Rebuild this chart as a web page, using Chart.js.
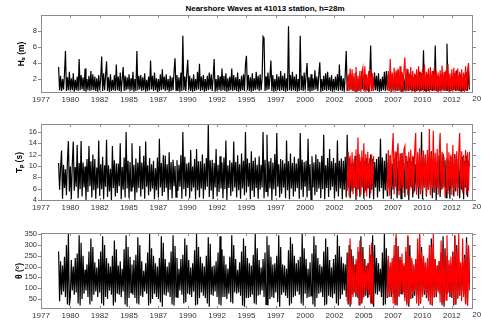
<!DOCTYPE html>
<html>
<head>
<meta charset="utf-8">
<script src="https://cdn.jsdelivr.net/npm/chart.js@4"></script>
<style>
  body { margin: 0; background: #fff; width: 481px; height: 321px; overflow: hidden; position: relative; }
  canvas { position: absolute; left: 0; }
  #title { position: absolute; top: 4px; left: 0; width: 530px; text-align: center;
           font: bold 8px "Liberation Sans", Arial, sans-serif; line-height: 10px; color: #000; }
</style>
</head>
<body>
<div id="title">Nearshore Waves at 41013 station, h=28m</div>
<canvas id="hsChart" width="481" height="105" style="top:0px"></canvas>
<canvas id="tpChart" width="481" height="103" style="top:110px"></canvas>
<canvas id="dirChart" width="481" height="106" style="top:215px"></canvas>
<script>
// monthly sampling (years); hindcast from Jan 1979, buoy from Aug 2003
const blackStart = 1979.0;
const redStart = 2003 + 7 / 12;
const perYear = 12;

const xTickPos = [1977.5, 1980, 1982.5, 1985, 1987.5, 1990, 1992.5, 1995, 1997.5, 2000, 2002.5, 2005, 2007.5, 2010, 2012.5, 2015];
const xTickLabels = ['1977', '1980', '1982', '1985', '1987', '1990', '1992', '1995', '1997', '2000', '2002', '2005', '2007', '2010', '2012', '2015'];

// Hs (m), hindcast (black), one row per year
const hsBlack = [
  3.5, 0.6, 2.4, 0.5, 2.0, 0.7, 2.6, 5.5, 0.5, 2.2, 0.6, 2.9,
  0.5, 2.1, 0.6, 2.7, 0.4, 1.9, 0.6, 2.3, 0.5, 4.5, 0.6, 2.5,
  0.7, 2.2, 0.5, 3.3, 0.4, 2.0, 0.6, 2.4, 0.5, 3.0, 0.6, 2.6,
  0.6, 2.3, 0.5, 2.1, 0.4, 2.5, 0.6, 2.0, 4.8, 0.5, 2.7, 0.6,
  2.4, 4.2, 0.5, 2.2, 0.4, 2.6, 0.5, 1.9, 0.6, 2.5, 0.5, 3.8,
  0.6, 2.3, 0.5, 2.8, 0.4, 2.0, 3.5, 0.5, 2.4, 0.6, 2.2, 0.7,
  2.6, 0.5, 2.1, 0.6, 2.9, 0.4, 2.0, 0.5, 5.5, 0.6, 2.4, 0.7,
  2.5, 0.5, 2.2, 0.6, 2.7, 0.4, 1.9, 0.5, 2.3, 0.6, 4.3, 0.7,
  2.4, 0.5, 2.8, 0.6, 2.1, 0.4, 2.0, 0.5, 2.6, 0.6, 3.2, 0.7,
  2.3, 0.5, 2.6, 0.6, 2.0, 0.4, 2.4, 0.5, 2.2, 0.6, 2.9, 4.6,
  0.6, 2.5, 0.5, 2.2, 0.4, 2.8, 0.5, 7.4, 0.6, 2.3, 0.5, 2.7,
  4.4, 0.6, 2.4, 0.5, 2.1, 0.4, 2.6, 0.5, 2.0, 0.6, 2.9, 0.7,
  3.9, 0.5, 2.3, 0.6, 2.5, 0.4, 2.0, 0.5, 2.4, 0.6, 2.8, 0.7,
  2.6, 0.5, 2.2, 4.5, 0.4, 2.0, 0.5, 2.5, 0.6, 2.3, 0.5, 3.3,
  0.6, 2.4, 0.5, 2.7, 0.4, 2.1, 0.5, 2.3, 0.6, 3.3, 0.5, 2.5,
  0.6, 2.2, 0.5, 2.8, 0.4, 2.0, 0.5, 2.4, 0.6, 2.6, 0.5, 3.8,
  4.9, 0.6, 2.5, 0.5, 2.2, 0.4, 2.7, 0.5, 2.1, 0.6, 2.9, 0.7,
  2.4, 0.5, 2.6, 0.6, 2.1, 7.3, 7.1, 0.5, 2.3, 0.6, 2.8, 0.7,
  2.2, 4.3, 0.5, 2.5, 0.4, 2.0, 0.5, 2.6, 0.6, 2.3, 0.5, 3.0,
  0.6, 2.4, 0.5, 2.7, 0.4, 2.1, 0.5, 8.6, 0.6, 2.5, 0.5, 2.9,
  0.6, 2.3, 0.5, 2.6, 0.4, 2.0, 0.5, 7.4, 0.6, 2.4, 0.5, 2.8,
  0.6, 2.5, 4.0, 0.5, 2.2, 0.4, 2.6, 0.5, 2.1, 0.6, 3.1, 0.7,
  2.3, 0.5, 2.6, 4.1, 0.4, 2.0, 0.5, 2.4, 0.6, 2.7, 0.5, 2.9,
  0.6, 2.2, 0.5, 2.5, 0.4, 2.0, 0.5, 2.3, 0.6, 2.6, 0.5, 3.8,
  0.6, 2.4, 0.5, 2.1, 0.4, 2.6, 5.5, 0.5, 2.3, 0.6, 2.7, 0.7,
  2.5, 0.5, 2.2, 0.6, 2.8, 0.4, 2.0, 0.5, 2.4, 0.6, 3.0, 0.7,
  2.3, 0.5, 2.6, 0.6, 2.1, 0.4, 2.5, 6.2, 0.5, 2.2, 0.6, 2.8,
  0.6, 2.4, 0.5, 2.7, 0.4, 2.0, 0.5, 2.3, 0.6, 2.9, 0.5, 3.0,
  0.6, 2.5, 0.5, 2.2, 0.4, 2.6, 0.5, 2.1, 0.6, 2.8, 0.5, 3.1,
  0.6, 2.3, 0.5, 2.7, 0.4, 2.1, 0.5, 2.4, 0.6, 3.2, 0.5, 2.6,
  0.6, 2.4, 0.5, 2.2, 0.4, 2.5, 0.5, 2.0, 0.6, 2.9, 0.5, 2.7,
  0.6, 5.6, 0.5, 2.3, 0.4, 2.6, 0.5, 2.1, 0.6, 2.5, 0.5, 3.0,
  0.6, 6.2, 0.5, 2.4, 0.4, 2.2, 0.5, 2.6, 0.6, 2.3, 0.5, 2.9,
  0.6, 6.4, 0.5, 2.5, 0.4, 2.1, 0.5, 2.4, 0.6, 2.7, 0.5, 3.1,
  0.6, 2.3, 0.5, 2.6, 0.4, 2.0, 0.5, 2.5, 0.6, 2.8, 0.5, 3.0,
  0.7
];
// Hs (m), buoy (red)
const hsRed = [
  0.6, 2.6, 0.5, 3.3, 0.6,
  3.2, 0.5, 2.7, 0.4, 3.5, 0.5, 2.4, 0.6, 3.0, 0.4, 2.8, 3.4,
  0.5, 3.6, 0.4, 2.6, 0.5, 3.0, 0.4, 3.2, 0.6, 2.7, 0.5, null,
  null, null, null, null, null, null, null, null, null, null, null, null,
  0.6, 3.0, 0.5, 4.5, 0.4, 2.8, 0.5, 3.4, 0.4, 3.1, 0.6, 3.3,
  0.5, 3.6, 0.4, 2.9, 0.5, 3.1, 4.7, 0.4, 3.3, 0.5, 2.8, 0.6,
  3.5, 0.4, 3.0, 0.5, 2.7, 0.4, 3.2, 0.5, 3.6, 0.4, 2.9, 0.5,
  3.2, 0.6, 3.8, 0.4, 2.9, 0.5, 3.3, 0.4, 3.5, 0.6, 3.0, 0.5,
  3.4, 0.5, 3.0, 0.4, 2.8, 0.5, 3.1, 0.4, 3.7, 0.6, 2.9, 0.5,
  3.1, 0.5, 3.9, 0.4, 2.7, 0.5, 3.2, 0.4, 3.4, 0.6, 3.0, 0.5,
  3.3, 0.5, 2.9, 0.4, 3.2, 0.5, 2.8, 0.4, 3.6, 0.5, 3.1, 4.0,
  0.9
];

// Tp (s)
const tpBlack = [
  10.5, 5.8, 9.6, 12.7, 4.2, 10.2, 6.1, 9.4, 4.8, 10.8, 14.4, 5.5,
  9.9, 4.1, 10.4, 14.3, 5.6, 9.8, 6.3, 13.7, 4.3, 10.5, 5.9, 14.4,
  4.6, 10.6, 6.2, 9.9, 4.0, 11.2, 5.4, 13.5, 6.4, 10.8, 4.4, 12.0,
  5.7, 11.2, 4.2, 9.7, 6.0, 14.5, 4.7, 10.3, 5.9, 11.6, 4.1, 10.1,
  6.3, 14.6, 4.5, 10.1, 5.5, 9.5, 4.0, 13.5, 6.1, 11.0, 4.6, 10.4,
  5.2, 10.4, 6.4, 14.0, 4.1, 9.8, 5.8, 11.5, 4.4, 16.0, 6.0, 10.9,
  4.3, 10.7, 5.6, 14.0, 6.2, 10.2, 4.0, 11.3, 5.3, 10.6, 6.1, 13.5,
  4.6, 10.6, 5.9, 11.8, 4.2, 14.3, 6.3, 10.1, 4.8, 11.4, 5.5, 10.3,
  6.0, 10.9, 4.1, 9.6, 5.7, 11.5, 4.4, 14.8, 6.2, 10.5, 4.7, 11.9,
  5.4, 11.8, 6.1, 10.3, 4.0, 12.4, 5.8, 10.7, 4.3, 11.1, 6.4, 10.0,
  4.5, 11.0, 5.6, 10.2, 6.3, 11.9, 4.2, 16.0, 5.9, 11.6, 4.6, 10.4,
  6.1, 10.6, 4.3, 12.8, 5.5, 9.9, 6.2, 11.2, 4.1, 13.0, 5.7, 10.8,
  4.4, 10.8, 6.0, 12.0, 4.2, 10.4, 5.8, 11.4, 6.3, 17.3, 4.5, 11.0,
  5.6, 11.1, 4.1, 10.5, 6.2, 13.0, 4.6, 10.2, 5.4, 11.7, 6.0, 10.6,
  4.3, 11.5, 5.9, 14.5, 4.0, 10.1, 6.1, 11.0, 4.7, 10.6, 5.5, 14.3,
  6.2, 10.7, 4.4, 11.9, 5.7, 10.3, 4.2, 12.2, 6.0, 10.9, 4.8, 16.0,
  5.3, 11.3, 6.3, 10.5, 4.1, 12.6, 5.6, 10.9, 4.5, 11.5, 6.1, 10.2,
  4.2, 11.7, 5.8, 10.2, 6.2, 16.0, 4.3, 11.1, 5.5, 15.5, 4.6, 10.8,
  6.0, 11.4, 4.0, 10.6, 5.9, 12.1, 4.7, 15.8, 6.3, 10.3, 4.4, 11.2,
  5.1, 11.0, 6.2, 10.4, 4.3, 14.5, 5.7, 10.8, 4.1, 12.2, 6.0, 10.5,
  4.6, 11.6, 5.5, 10.4, 6.1, 11.3, 4.2, 15.8, 5.8, 11.1, 4.5, 10.7,
  6.3, 10.9, 4.4, 14.8, 5.6, 10.3, 4.0, 11.7, 6.2, 10.6, 4.8, 12.0,
  5.4, 11.2, 6.0, 10.7, 4.3, 11.8, 5.9, 15.5, 4.1, 10.1, 6.1, 11.4,
  4.5, 13.0, 5.7, 10.8, 6.3, 11.4, 4.2, 10.5, 5.5, 14.5, 4.6, 10.9,
  6.0, 11.3, 4.1, 10.9, 5.8, 11.6, 4.4, 15.5, 6.2, 11.5, 4.3, 10.4,
  5.5, 10.6, 6.1, 11.8, 4.0, 10.2, 5.9, 12.1, 4.5, 10.8, 6.3, 11.3,
  4.2, 10.9, 5.6, 11.4, 6.0, 10.5, 4.3, 12.0, 5.8, 11.2, 4.1, 10.7,
  6.2, 11.2, 4.4, 11.6, 5.5, 14.8, 6.1, 11.5, 4.2, 10.9, 5.7, 12.2,
  4.6, 10.7, 6.0, 11.9, 4.1, 10.4, 5.8, 11.3, 6.3, 12.4, 4.3, 10.8,
  5.6, 11.0, 4.2, 12.3, 6.1, 10.6, 4.5, 11.8, 5.9, 10.9, 4.0, 11.5,
  6.3, 10.8, 4.4, 11.6, 5.5, 10.3, 6.0, 11.9, 4.2, 10.7, 5.7, 16.0,
  4.1, 11.4, 6.2, 12.0, 4.6, 10.7, 5.8, 11.5, 6.0, 12.6, 4.3, 10.9,
  5.4, 11.1, 4.0, 10.8, 6.1, 11.9, 4.5, 10.6, 5.9, 12.2, 6.3, 11.0,
  4.4, 11.3, 5.7, 10.9, 4.2, 11.7, 6.2, 10.5, 4.6, 12.1, 5.5, 11.2,
  6.0, 11.0, 4.3, 10.7, 5.8, 11.6, 4.1, 10.9, 6.2, 11.8, 4.5, 10.6,
  10.0
];
const tpRed = [
  5.6, 12.5, 4.6, 11.8, 6.2,
  12.4, 5.0, 11.2, 6.3, 12.9, 4.7, 15.0, 5.8, 11.6, 4.9, 12.7, 6.1,
  14.0, 5.3, 12.1, 4.6, 12.5, 6.0, 11.4, 5.1, 12.0, 6.4, 11.7, null,
  null, null, null, null, null, null, null, null, null, null, null, null,
  5.5, 12.8, 4.7, 11.9, 6.2, 12.4, 15.8, 5.0, 12.6, 6.1, 12.2, 14.0,
  4.8, 12.2, 6.0, 11.8, 5.2, 12.9, 13.5, 6.3, 11.7, 4.8, 12.5, 5.7,
  12.9, 6.1, 11.8, 5.1, 12.6, 15.8, 4.9, 12.4, 6.2, 13.1, 5.0, 12.0,
  5.6, 12.7, 6.3, 11.9, 4.8, 12.8, 5.9, 16.5, 4.8, 12.3, 6.0, 16.2,
  5.2, 12.3, 6.2, 13.0, 4.9, 12.1, 15.8, 5.7, 12.5, 6.1, 11.6, 5.1,
  6.0, 14.0, 5.0, 12.4, 6.3, 12.0, 4.8, 13.7, 5.6, 11.8, 6.1, 12.6,
  4.7, 12.2, 15.8, 6.0, 12.6, 5.3, 11.9, 6.2, 12.8, 4.8, 12.4, 5.6,
  12.5
];

// mean direction (deg)
const dirBlack = [
  270, 40, 225, 70, 205, 85, 245, 60, 300, 25, 350, 20,
  60, 230, 90, 200, 70, 240, 80, 260, 30, 345, 20, 310,
  50, 250, 75, 185, 90, 210, 60, 270, 25, 330, 40, 290,
  70, 220, 85, 195, 60, 235, 80, 270, 30, 340, 20, 300,
  60, 240, 50, 215, 90, 200, 70, 250, 20, 320, 35, 280,
  75, 205, 70, 225, 60, 190, 85, 280, 25, 345, 15, 290,
  55, 245, 80, 210, 70, 230, 55, 255, 30, 335, 25, 300,
  65, 225, 60, 180, 85, 215, 75, 265, 20, 350, 30, 285,
  50, 250, 75, 215, 60, 200, 50, 240, 35, 340, 15, 310,
  70, 235, 65, 200, 80, 220, 60, 270, 25, 345, 20, 295,
  60, 240, 55, 190, 90, 235, 70, 255, 30, 330, 35, 300,
  75, 230, 70, 195, 60, 215, 85, 275, 20, 350, 25, 290,
  55, 245, 80, 215, 65, 200, 55, 250, 30, 335, 15, 305,
  70, 200, 65, 205, 85, 225, 60, 265, 25, 340, 20, 280,
  60, 250, 60, 210, 50, 190, 75, 245, 35, 345, 30, 300,
  80, 235, 75, 185, 80, 220, 65, 270, 20, 330, 15, 295,
  55, 240, 55, 215, 60, 205, 70, 255, 30, 350, 25, 285,
  65, 230, 70, 195, 90, 235, 60, 265, 25, 340, 20, 300,
  50, 245, 60, 210, 55, 215, 80, 250, 35, 345, 15, 290,
  70, 210, 80, 205, 65, 190, 55, 275, 20, 335, 30, 305,
  60, 250, 65, 215, 85, 230, 70, 245, 30, 350, 20, 285,
  75, 235, 55, 190, 60, 220, 65, 260, 25, 340, 15, 300,
  55, 240, 75, 210, 80, 200, 60, 270, 20, 330, 25, 290,
  65, 230, 60, 195, 55, 235, 75, 255, 30, 345, 20, 295,
  50, 245, 70, 215, 90, 210, 60, 265, 25, 300, 15, 280,
  70, 250, 80, 210, 60, 225, 55, 270, 20, 340, 30, 290,
  60, 235, 65, 205, 55, 215, 70, 255, 30, 345, 15, 300,
  75, 240, 70, 215, 85, 190, 60, 265, 20, 350, 25, 285,
  55, 230, 60, 200, 60, 220, 75, 250, 25, 335, 20, 295,
  65, 245, 75, 210, 80, 205, 55, 270, 30, 340, 15, 300,
  50, 225, 55, 195, 65, 235, 70, 260, 20, 345, 30, 290,
  70, 240, 70, 215, 55, 200, 60, 255, 25, 330, 20, 305,
  60, 235, 60, 205, 90, 225, 75, 265, 30, 340, 15, 285,
  75, 250, 80, 210, 60, 215, 55, 270, 20, 345, 25, 300,
  55, 230, 65, 200, 85, 220, 70, 255, 30, 335, 20, 290,
  120
];
const dirRed = [
  40, 260, 30, 330, 25,
  240, 60, 210, 80, 235, 70, 290, 20, 320, 30, 270, 50,
  230, 70, 200, 90, 215, 60, 300, 30, 310, 25, 250, null,
  null, null, null, null, null, null, null, null, null, null, null, null,
  60, 250, 60, 220, 80, 240, 30, 300, 20, 350, 25, 280,
  60, 230, 80, 260, 70, 215, 40, 290, 20, 345, 30, 250,
  50, 240, 70, 210, 85, 235, 30, 330, 20, 350, 35, 270,
  60, 250, 85, 220, 65, 240, 40, 300, 25, 290, 20, 350,
  55, 235, 75, 205, 80, 225, 35, 320, 20, 290, 30, 260,
  45, 345, 80, 230, 60, 245, 70, 260, 30, 340, 25, 280,
  50, 350, 70, 220, 40, 330, 60, 240, 25, 310, 20, 300,
  90
];

Chart.defaults.font.family = '"Liberation Sans", Arial, sans-serif';
Chart.defaults.color = '#333';

function toPoints(start, vals) {
    return vals.map((v, i) => ({ x: start + i / perYear, y: v }));
}

// box round the plot, short ticks, and the cut-off last year label
const framePlugin = {
    id: 'frame',
    afterDraw(chart) {
        const { ctx, chartArea: a, scales: { x, y } } = chart;
        ctx.save();
        ctx.strokeStyle = '#8c8c8c';
        ctx.lineWidth = 1;
        ctx.strokeRect(a.left + 0.5, a.top + 0.5, a.right - a.left - 1, a.bottom - a.top - 1);
        ctx.beginPath();
        x.ticks.forEach(t => {
            const px = Math.round(x.getPixelForValue(t.value)) + 0.5;
            ctx.moveTo(px, a.top); ctx.lineTo(px, a.top + 3);
            ctx.moveTo(px, a.bottom); ctx.lineTo(px, a.bottom - 3);
        });
        y.ticks.forEach(t => {
            const py = Math.round(y.getPixelForValue(t.value)) + 0.5;
            ctx.moveTo(a.left - 3, py); ctx.lineTo(a.left, py);
            ctx.moveTo(a.right, py); ctx.lineTo(a.right + 3, py);
        });
        ctx.stroke();
        ctx.fillStyle = '#333';
        ctx.font = '8px "Liberation Sans", Arial, sans-serif';
        ctx.textAlign = 'center';
        ctx.textBaseline = 'top';
        const last = xTickPos.length - 1;
        ctx.fillText(xTickLabels[last], x.getPixelForValue(xTickPos[last]), x.top + 2);
        ctx.restore();
    }
};

function createPanel(canvasId, black, red, yLabel, yMin, yMax, yTicks, padTop, titlePad) {
    const ctx = document.getElementById(canvasId).getContext('2d');
    return new Chart(ctx, {
        type: 'line',
        data: {
            datasets: [{
                data: toPoints(redStart, red),
                borderColor: 'rgb(255, 0, 0)',
                order: 0
            }, {
                data: toPoints(blackStart, black),
                borderColor: 'rgb(0, 0, 0)',
                order: 1
            }]
        },
        options: {
            responsive: false,
            animation: false,
            layout: { padding: { top: padTop, right: 8, left: 0, bottom: 0 } },
            elements: {
                point: { radius: 0 },
                line: { borderWidth: 1.2, tension: 0 }
            },
            spanGaps: false,
            plugins: { legend: { display: false }, tooltip: { enabled: false } },
            scales: {
                x: {
                    type: 'linear',
                    min: 1977.5,
                    max: 2014.3,
                    grid: { display: false, drawTicks: false },
                    border: { display: false },
                    afterBuildTicks: s => { s.ticks = xTickPos.slice(0, -1).map(v => ({ value: v })); },
                    afterFit: s => { s.height = 12; },
                    ticks: {
                        autoSkip: false,
                        maxRotation: 0,
                        padding: 2,
                        font: { size: 8 },
                        callback: (v, i) => xTickLabels[i]
                    }
                },
                y: {
                    min: yMin,
                    max: yMax,
                    grid: { display: false, drawTicks: false },
                    border: { display: false },
                    afterBuildTicks: s => { s.ticks = yTicks.map(v => ({ value: v })); },
                    afterFit: s => { s.width = 41; },
                    ticks: { padding: 4, font: { size: 7.5 } },
                    title: {
                        display: true,
                        text: yLabel,
                        color: '#000',
                        font: { size: 8.5, weight: 'bold' },
                        padding: { top: titlePad, bottom: 0 }
                    }
                }
            }
        },
        plugins: [framePlugin]
    });
}

createPanel('hsChart', hsBlack, hsRed, 'Hₛ (m)', 0.25, 10, [2, 4, 6, 8], 15, 17);
createPanel('tpChart', tpBlack, tpRed, 'Tₚ (s)', 3.8, 17.4, [4, 6, 8, 10, 12, 14, 16], 14, 15);
createPanel('dirChart', dirBlack, dirRed, 'θ (°)', 4, 355, [50, 100, 150, 200, 250, 300, 350], 18, 15);
</script>
</body>
</html>
